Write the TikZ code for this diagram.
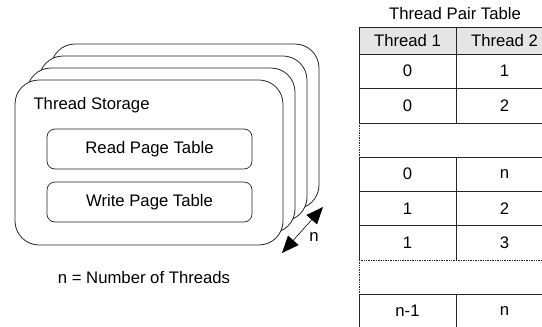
\documentclass[tikz,border=0pt]{standalone}
\usepackage{fontspec}
\setmainfont{Liberation Sans}
\usetikzlibrary{arrows.meta}
\begin{document}
\begin{tikzpicture}[x=1pt,y=-1pt,font=\fontsize{16.7}{19}\selectfont,
  store/.style={draw=black!85,fill=white,line width=0.8pt,rounded corners=24pt,
    minimum width=268pt,minimum height=165pt,inner sep=0pt,outer sep=0pt},
  pagetab/.style={draw=black!85,line width=0.7pt,rounded corners=8pt,
    minimum width=205pt,minimum height=40pt,inner sep=0pt},
  rule/.style={black!85,line width=0.8pt},
  gaprule/.style={black!85,line width=0.7pt,densely dotted}]
\clip (0,0) rectangle (542,327);

% thread storages, back to front
\foreach \k in {3,2,1}
  \node[store] (store\k) at (149+12*\k,162.5-12*\k) {};
\node[store] (store0) at (149,162.5) {};
\node[anchor=west] (storetitle) at (30,105) {Thread Storage};
\node[pagetab] (readpt) at (149.5,149) {Read Page Table};
\node[pagetab] (writept) at (149.5,202) {Write Page Table};

\coordinate (nlo) at (282,253);
\coordinate (nhi) at (323,207);
\draw[{Triangle[length=17pt,width=14pt]}-{Triangle[length=17pt,width=14pt]},line width=0.6pt] (nlo) -- (nhi);
\node (nlab) at (314,237) {n};
\node (legend) at (144,278) {n = Number of Threads};

% thread pair table
\node (pairtitle) at (455,14) {Thread Pair Table};
\fill[black!10] (359,27) rectangle (553,54);
\foreach \y in {27,54,88.5,123,157,191.5,225.5,294,328}
  \draw[rule] (359,\y) -- (553,\y);
\draw[gaprule] (359,260) -- (553,260);
\foreach \x in {359,456} {
  \draw[rule] (\x,27) -- (\x,123);
  \draw[rule] (\x,157) -- (\x,260);
  \draw[rule] (\x,294) -- (\x,328);
}
\draw[gaprule] (359,123) -- (359,157);
\draw[gaprule] (359,260) -- (359,294);

\foreach \y/\a/\b [count=\i] in {40.5/Thread 1/Thread 2,71/0/1,105.5/0/2,174/0/n,
    208.5/1/2,242.5/1/3,311/n-1/n} {
  \node (left\i) at (407.5,\y) {\a};
  \node (right\i) at (504.5,\y) {\b};
}
\end{tikzpicture}
\end{document}
